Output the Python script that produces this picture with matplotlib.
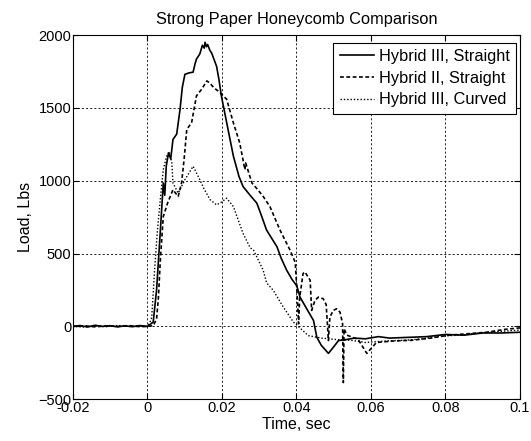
import matplotlib
matplotlib.use("Agg")
import matplotlib.pyplot as plt

plt.rcParams['font.family'] = ['Liberation Sans', 'DejaVu Sans']

# Hybrid III, Straight (solid)
t_h3s = [-0.02, -0.018, -0.016, -0.014, -0.012, -0.010, -0.008, -0.006, -0.004, -0.002, 0.0,
         0.0006, 0.0016, 0.0025, 0.0035, 0.0043, 0.0047, 0.0051, 0.0057, 0.0063, 0.0069, 0.0079,
         0.0088, 0.0094, 0.0101, 0.0112, 0.0123, 0.0128, 0.0132, 0.0141, 0.0148, 0.0153,
         0.0155, 0.0159, 0.0162, 0.0168, 0.0173, 0.0186, 0.0192, 0.0199, 0.0213, 0.0231,
         0.0246, 0.0257, 0.0276, 0.0294, 0.0305, 0.0320, 0.0335, 0.0348, 0.0359, 0.0374,
         0.0389, 0.0401, 0.0410, 0.0428, 0.0446, 0.0455, 0.0467, 0.0486, 0.0499, 0.0513,
         0.0534, 0.0556, 0.0585, 0.0620, 0.0650, 0.0700, 0.0750, 0.0800, 0.0850, 0.0900,
         0.0950, 0.1000]
y_h3s = [0, 6, -4, 8, 0, 5, -3, 4, -2, 6, 0,
         10, 30, 250, 650, 984, 900, 1100, 1190, 1150, 1283, 1320,
         1490, 1640, 1730, 1740, 1745, 1800, 1835, 1870, 1930, 1910,
         1950, 1920, 1935, 1895, 1875, 1785, 1700, 1580, 1400, 1170,
         1030, 960, 900, 846, 770, 662, 600, 547, 470, 386,
         320, 280, 201, 120, 41, -75, -130, -185, -144, -97,
         -90, -80, -85, -70, -80, -75, -70, -55, -60, -45,
         -45, -40]

# Hybrid II, Straight (dashed)
t_h2s = [-0.02, -0.017, -0.014, -0.011, -0.008, -0.005, -0.002, 0.0, 0.0016, 0.0025, 0.0030,
         0.0035, 0.0043, 0.0055, 0.0069, 0.0083, 0.0092, 0.0099, 0.0106, 0.0119, 0.0132,
         0.0146, 0.0160, 0.0168, 0.0178, 0.0195, 0.0213, 0.0231, 0.0248, 0.0262, 0.0264,
         0.0281, 0.0296, 0.0311, 0.0329, 0.0356, 0.0383, 0.0397, 0.0401, 0.0406, 0.0409,
         0.0418, 0.0423, 0.0437, 0.0441, 0.0450, 0.0459, 0.0472, 0.0480, 0.0486, 0.0490,
         0.0499, 0.0508, 0.0517, 0.0524, 0.0526, 0.0528, 0.0536, 0.0566, 0.0589, 0.0615,
         0.0660, 0.0710, 0.0760, 0.0810, 0.0860, 0.0910, 0.0960, 0.1000]
y_h2s = [0, 5, -3, 4, 0, 6, -2, 0, 5, 50, 200,
         450, 754, 850, 938, 892, 984, 1150, 1352, 1398, 1582,
         1628, 1685, 1670, 1640, 1605, 1559, 1398, 1260, 1076, 1122,
         984, 940, 892, 823, 662, 524, 440, 271, 18, 200,
         363, 374, 317, 110, 179, 201, 190, 150, -97, 64,
         110, 121, 98, 20, -385, -17, -60, -90, -185, -110,
         -100, -95, -80, -60, -50, -40, -20, -10]

# Hybrid III, Curved (dotted)
t_h3c = [-0.02, -0.017, -0.014, -0.011, -0.008, -0.005, -0.002, 0.0, 0.0006, 0.0012, 0.0020,
         0.0027, 0.0034, 0.0043, 0.0052, 0.0059, 0.0066, 0.0069, 0.0083, 0.0092, 0.0101,
         0.0123, 0.0141, 0.0153, 0.0169, 0.0186, 0.0197, 0.0213, 0.0231, 0.0257, 0.0276,
         0.0285, 0.0311, 0.0320, 0.0338, 0.0365, 0.0392, 0.0401, 0.0432, 0.0467, 0.0507,
         0.0546, 0.0585, 0.0640, 0.0690, 0.0740, 0.0790, 0.0840, 0.0890, 0.0940, 0.1000]
y_h3c = [0, -4, 5, -2, 6, 0, 4, 0, 20, 60, 400,
         650, 846, 1076, 1168, 1200, 1122, 984, 915, 960, 1007,
         1099, 1007, 940, 869, 834, 850, 880, 823, 639, 540,
         524, 386, 300, 248, 133, 30, 10, -63, -80, -90,
         -95, -110, -100, -95, -85, -65, -60, -45, -35, -25]

x_ticks = [-0.02, 0, 0.02, 0.04, 0.06, 0.08, 0.1]
x_tick_labels = ['-0.02', '0', '0.02', '0.04', '0.06', '0.08', '0.1']
y_ticks = [-500, 0, 500, 1000, 1500, 2000]

fig = plt.figure(figsize=(5.31, 4.41), dpi=100)
ax = fig.add_axes([0.1369, 0.0946, 0.8424, 0.8260])

ax.plot(t_h3s, y_h3s, color='black', linestyle='-', linewidth=1.2, label='Hybrid III, Straight')
ax.plot(t_h2s, y_h2s, color='black', linestyle=(0, (2.3, 1.5)), linewidth=1.2, label='Hybrid II, Straight')
ax.plot(t_h3c, y_h3c, color='black', linestyle=(0, (1, 1.4)), linewidth=1.0, label='Hybrid III, Curved')

ax.set_xlim(-0.02, 0.1)
ax.set_ylim(-500, 2000)
ax.set_xticks(x_ticks)
ax.set_xticklabels(x_tick_labels)
ax.set_yticks(y_ticks)
ax.tick_params(direction='in', top=True, right=True, labelsize=10.5, length=4, pad=1)
ax.grid(True, color='black', linestyle=(0, (2.5, 2.5)), linewidth=0.6)
for s in ax.spines.values():
    s.set_linewidth(0.8)

ax.set_title('Strong Paper Honeycomb Comparison', fontsize=11.8, pad=8)
ax.set_xlabel('Time, sec', fontsize=11.5, labelpad=2)
ax.set_ylabel('Load, Lbs', fontsize=11.5, labelpad=4)

leg = ax.legend(loc='upper right', bbox_to_anchor=(0.991, 0.979), fontsize=11.8, frameon=True,
                fancybox=False, edgecolor='black', framealpha=1, borderaxespad=0.0,
                handlelength=2.05, handletextpad=0.3, labelspacing=0.4, borderpad=0.4)
leg.get_frame().set_linewidth(0.8)

fig.savefig('out.png', dpi=100)
